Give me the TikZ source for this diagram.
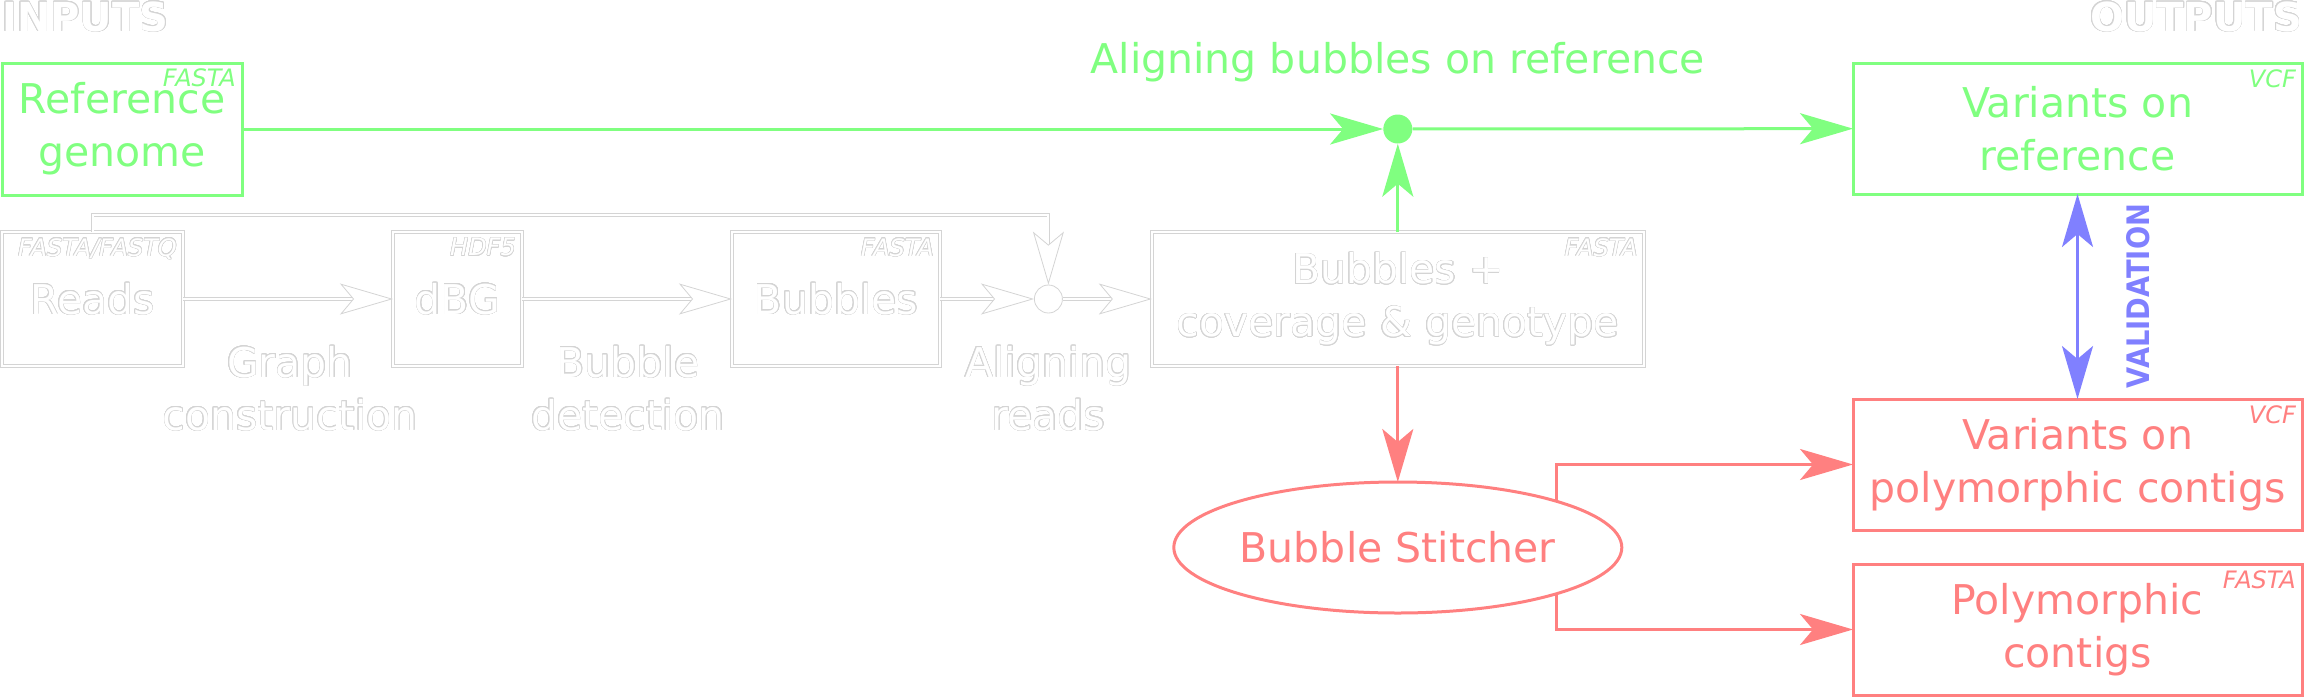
\documentclass[tikz,border=0pt]{standalone}
\usepackage{fontspec}
\setmainfont{DejaVu Sans}
\newfontfamily\valfont[FakeStretch=0.88]{DejaVu Sans Bold}
\usepackage{contour}
\contourlength{0.5pt}
\contournumber{24}
\usetikzlibrary{arrows.meta,positioning,shapes.geometric}

\definecolor{refgreen}{RGB}{128,255,128}
\definecolor{polyred}{RGB}{255,128,128}
\definecolor{valblue}{RGB}{128,128,255}
\definecolor{ghostline}{RGB}{212,212,212}

% white text with a thin grey outline
\newcommand{\ghost}[1]{\contour{ghostline}{#1}}

\tikzset{
  bigfont/.style={font=\fontsize{41}{53}\selectfont},
  header/.style={text=white, inner sep=0pt, font=\fontsize{40}{40}\selectfont\bfseries},
  iobox/.style={draw, line width=3pt, minimum width=449pt, minimum height=131pt,
    inner sep=0pt, outer sep=0pt, align=center, bigfont},
  gbox/.style={draw=ghostline, line width=0.8pt, double=white, double distance=2pt,
    text=white, minimum height=134pt, inner sep=0pt, outer sep=0pt, align=center, bigfont},
  tag/.style={anchor=north east, inner sep=0pt, font=\fontsize{24}{24}\selectfont\itshape},
  steplabel/.style={text=white, inner sep=0pt, align=center, bigfont},
  junction/.style={circle, draw=ghostline, line width=0.8pt, fill=white, minimum size=28pt, inner sep=0pt},
  dot/.style={circle, fill=refgreen, minimum size=29pt, inner sep=0pt},
  flowtip/.style={-{Stealth[length=53pt,width=31pt,inset=13pt]}},
  ghostarrow/.style={draw=ghostline, line width=0.8pt, double=white, double distance=2pt,
    -{Stealth[length=53pt,width=31pt,inset=13pt,fill=white]}},
  greenarrow/.style={draw=refgreen, line width=3pt, flowtip},
  redarrow/.style={draw=polyred, line width=3pt, flowtip},
  bluearrow/.style={draw=valblue, line width=3pt,
    {Stealth[length=53pt,width=31pt,inset=13pt]}-{Stealth[length=53pt,width=31pt,inset=13pt]}}
}

\begin{document}
\begin{tikzpicture}[x=1pt,y=-1pt]
\useasboundingbox (0,0) rectangle (2304,697);
% headers
\node[header, anchor=base west] (inputs) at (2,31) {\ghost{INPUTS}};
\node[header, anchor=base east] (outputs) at (2302,31) {\ghost{OUTPUTS}};

% inputs and outputs
\node[iobox, draw=refgreen, text=refgreen, minimum width=240pt, minimum height=132pt] (ref) at (122,129) {Reference\\genome};
\node[iobox, draw=refgreen, text=refgreen] (varref) at (2077.5,128.5) {Variants on\\reference};
\node[iobox, draw=polyred, text=polyred, below=205pt of varref] (varpoly) {Variants on\\polymorphic contigs};
\node[iobox, draw=polyred, text=polyred, below=34pt of varpoly] (polyc) {Polymorphic\\contigs};

% pipeline
\node[gbox, minimum width=181pt] (reads) at (92.5,299) {\ghost{Reads}};
\node[gbox, minimum width=129pt, right=210pt of reads] (dbg) {\ghost{dBG}};
\node[gbox, minimum width=208pt, right=210pt of dbg] (bubbles) {\ghost{Bubbles}};
\node[junction, right=94pt of bubbles] (junc) {};
\node[gbox, minimum width=492pt, right=89pt of junc] (bubcov) {\ghost{Bubbles +}\\\ghost{coverage \& genotype}};
\node[dot] (align) at (bubcov.north |- ref.east) {};
\node[ellipse, draw=polyred, line width=3pt, text=polyred, minimum width=448pt, minimum height=131pt,
  inner sep=0pt, outer sep=0pt, bigfont, below=116pt of bubcov] (stitcher) {Bubble Stitcher};

% formats
\node[tag, text=refgreen] at ([shift={(-6,5)}]ref.north east) {FASTA};
\node[tag, text=refgreen] at ([shift={(-6,6)}]varref.north east) {VCF};
\node[tag, text=polyred] at ([shift={(-6,6)}]varpoly.north east) {VCF};
\node[tag, text=polyred] at ([shift={(-6,6)}]polyc.north east) {FASTA};
\node[tag, text=white] at ([shift={(-6,6)}]reads.north east) {\ghost{FASTA/FASTQ}};
\node[tag, text=white] at ([shift={(-6,6)}]dbg.north east) {\ghost{HDF5}};
\node[tag, text=white] at ([shift={(-6,6)}]bubbles.north east) {\ghost{FASTA}};
\node[tag, text=white] at ([shift={(-6,6)}]bubcov.north east) {\ghost{FASTA}};

% step labels
\node[steplabel] (graphc) at (290,388.5) {\ghost{Graph}\\\ghost{construction}};
\node[steplabel] (bubdet) at (628,388.5) {\ghost{Bubble}\\\ghost{detection}};
\node[steplabel] (alreads) at (junc |- graphc) {\ghost{Aligning}\\\ghost{reads}};
\node[text=refgreen, bigfont, anchor=base] (alignlbl) at (align |- 0,73) {Aligning bubbles on reference};
\node[text=valblue, rotate=90, inner sep=0pt, font=\fontsize{31}{31}\valfont] (valid) at (2138,296) {VALIDATION};

% edges
\draw[ghostarrow] (reads) -- (dbg);
\draw[ghostarrow] (dbg) -- (bubbles);
\draw[ghostarrow] (bubbles) -- (junc);
\draw[ghostarrow] (junc) -- (bubcov);
\draw[ghostarrow] (reads.north) -- ++(0,-17) -| (junc.north);
\draw[greenarrow] (ref) -- (align);
\draw[greenarrow] (align) -- (varref);
\draw[greenarrow] (bubcov) -- (align);
\draw[redarrow] (bubcov) -- (stitcher);
\draw[redarrow] (stitcher.north east) |- (varpoly);
\draw[redarrow] (stitcher.south east) |- (polyc);
\draw[bluearrow] (varref) -- (varpoly);
\end{tikzpicture}
\end{document}
